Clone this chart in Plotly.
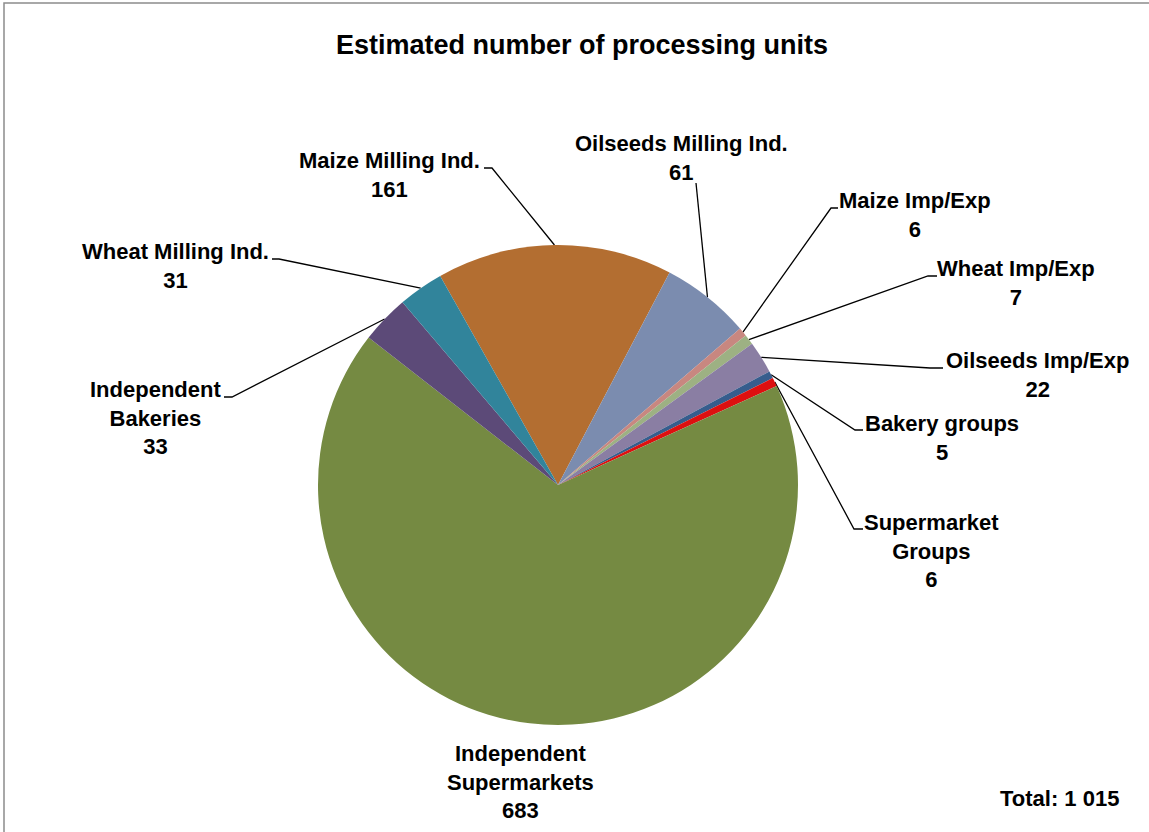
import math
import plotly.graph_objects as go

# ---------------- data ----------------
categories = ["Maize Milling Ind.", "Oilseeds Milling Ind.", "Maize Imp/Exp", "Wheat Imp/Exp",
              "Oilseeds Imp/Exp", "Bakery groups", "Supermarket Groups",
              "Independent Supermarkets", "Independent Bakeries", "Wheat Milling Ind."]
values = [161, 61, 6, 7, 22, 5, 6, 683, 33, 31]
label_names = ["Maize Milling Ind.", "Oilseeds Milling Ind.", "Maize Imp/Exp", "Wheat Imp/Exp",
               "Oilseeds Imp/Exp", "Bakery groups", "Supermarket<br>Groups",
               "Independent<br>Supermarkets", "Independent<br>Bakeries", "Wheat Milling Ind."]
title_text = "Estimated number of processing units"
total_text = "Total: 1 015"

# ---------------- style ----------------
colors = ["#B36E31", "#7B8CAF", "#C88780", "#9DB183", "#8A7EA3",
          "#365D8D", "#DD1010", "#758A42", "#5C4A78", "#31849B"]
W, H = 1149, 832
CX, CY, R = 558, 485, 240
START_ANGLE = -29.4
FONT = "Liberation Sans Narrow, Arial Narrow, Liberation Sans, Arial, sans-serif"
LABEL_SIZE = 22
LINE_H = 30
# label first-line centre (pixel) and leader-line elbow points (pixel)
label_pos = [(389, 160), (681, 143), (915, 200), (1016, 268), (1037, 360),
             (942, 423), (931, 521), (520, 752), (155, 388), (175, 251)]
elbows = [[(484, 168), (492, 168)],
          [(696, 183)],
          [(838, 208), (831, 208)],
          [(937, 276), (928, 276)],
          [(943, 368), (930, 368)],
          [(863, 430), (855, 430)],
          [(863, 529), (854, 529)],
          [],
          [(224, 397), (232, 397)],
          [(272, 259), (279, 259)]]

fig = go.Figure()

fig.add_trace(go.Pie(
    labels=categories, values=values, sort=False, direction="clockwise",
    rotation=START_ANGLE, textinfo="none", hoverinfo="label+value",
    marker=dict(colors=colors, line=dict(width=0)),
    domain=dict(x=[(CX - R) / W, (CX + R) / W], y=[1 - (CY + R) / H, 1 - (CY - R) / H]),
    showlegend=False,
))

total = sum(values)
cum = 0.0
annotations = []
for i, v in enumerate(values):
    mid = START_ANGLE + (cum + v / 2) / total * 360
    cum += v
    th = math.radians(mid)
    ex, ey = CX + R * math.sin(th), CY - R * math.cos(th)
    pts = elbows[i]
    if pts:
        xs = [p[0] for p in pts] + [ex]
        ys = [p[1] for p in pts] + [ey]
        fig.add_trace(go.Scatter(x=xs, y=ys, mode="lines", line=dict(color="black", width=1.3),
                                 hoverinfo="skip", showlegend=False, xaxis="x", yaxis="y"))
    nlines = label_names[i].count("<br>") + 2
    lx, ly = label_pos[i]
    annotations.append(dict(
        x=lx, y=ly + (nlines - 1) * LINE_H / 2, xref="x", yref="y",
        text="<b>%s<br>%d</b>" % (label_names[i], v), showarrow=False,
        xanchor="center", yanchor="middle", align="center",
        font=dict(family=FONT, size=LABEL_SIZE, color="black")))

annotations.append(dict(x=582, y=45, xref="x", yref="y", text="<b>%s</b>" % title_text,
                        showarrow=False, xanchor="center", yanchor="middle",
                        font=dict(family=FONT, size=27, color="black")))
annotations.append(dict(x=1059, y=798, xref="x", yref="y", text="<b>%s</b>" % total_text,
                        showarrow=False, xanchor="center", yanchor="middle",
                        font=dict(family=FONT, size=LABEL_SIZE, color="black")))

fig.update_layout(
    width=W, height=H, margin=dict(l=0, r=0, t=0, b=0),
    paper_bgcolor="white", plot_bgcolor="rgba(0,0,0,0)",
    xaxis=dict(range=[0, W], domain=[0, 1], visible=False, fixedrange=True),
    yaxis=dict(range=[H, 0], domain=[0, 1], visible=False, fixedrange=True),
    annotations=annotations,
    shapes=[dict(type="rect", xref="x", yref="y", x0=4, y0=3, x1=W + 10, y1=H + 10,
                 line=dict(color="#8C8C8C", width=1.5), layer="below")],
)

fig.write_html("out.html", config={"displayModeBar": False},
               post_script="document.body.style.margin='0';document.body.style.overflow='hidden';")
